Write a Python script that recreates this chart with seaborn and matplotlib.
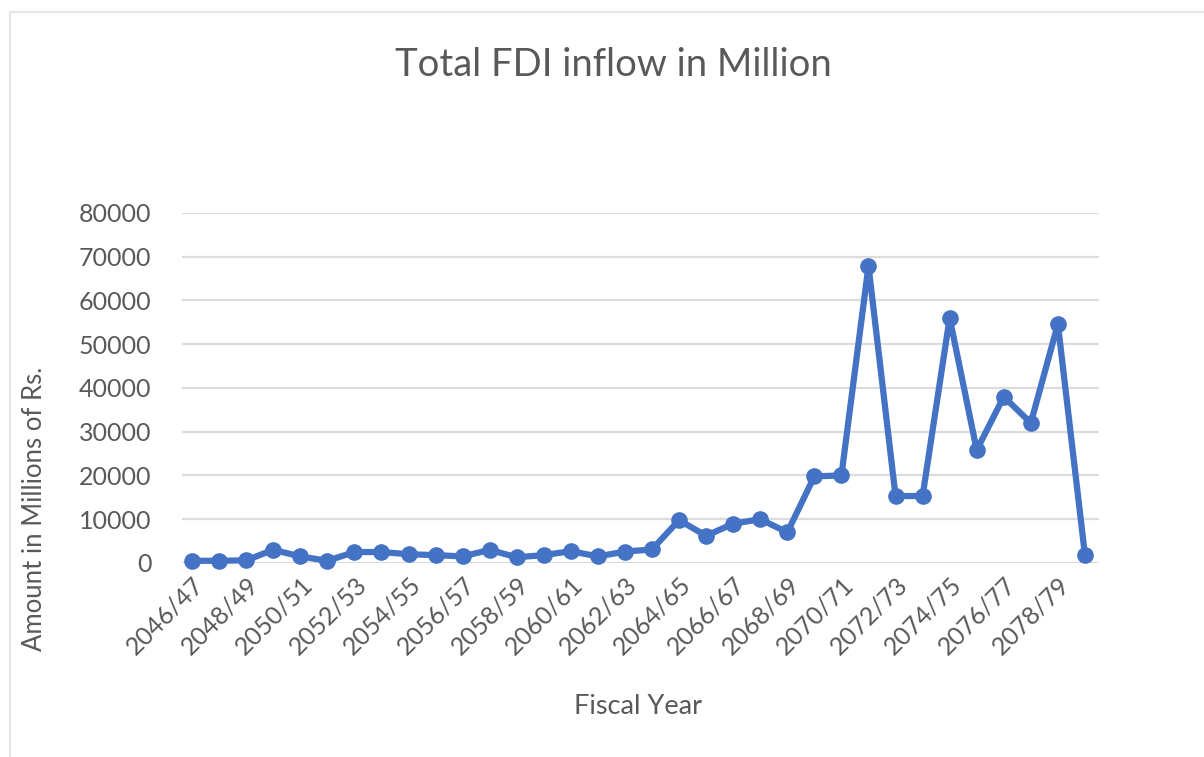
import numpy as np
import pandas as pd
import matplotlib
matplotlib.use("Agg")
import matplotlib.pyplot as plt
import seaborn as sns

# --- data ---
fiscal_years = [f"{y}/{(y + 1) % 100:02d}" for y in range(2046, 2080)]
fdi_inflow = [500, 500, 600, 3000, 1500, 500, 2500, 2500, 2000, 1800,
              1500, 3000, 1300, 1800, 2700, 1500, 2600, 3100, 9800, 6200,
              9000, 10000, 7000, 19800, 20000, 67900, 15300, 15300, 56000, 25800,
              38000, 32000, 54600, 1800]
y_ticks = [0, 10000, 20000, 30000, 40000, 50000, 60000, 70000, 80000]

df = pd.DataFrame({"Fiscal Year": fiscal_years, "FDI": fdi_inflow})
df["pos"] = np.arange(len(df))

sns.set_theme(style="white")
plt.rcParams['font.family'] = ['Lato', 'DejaVu Sans']
text_col = '#595959'

fig = plt.figure(figsize=(12.04, 7.57), dpi=100)
ax = fig.add_axes([0.1512, 0.2563, 0.7616, 0.4624])

sns.lineplot(data=df, x="pos", y="FDI", ax=ax, color='#4472C4', linewidth=4.5,
             marker='o', markersize=12, markeredgewidth=0, clip_on=False, zorder=3)

ax.set_ylim(0, 80000)
ax.set_yticks(y_ticks)
ax.set_yticklabels([str(v) for v in y_ticks])
ax.set_xlim(-0.37, len(df) - 0.48)
ax.set_xticks(df["pos"][::2])
ax.set_xticklabels(df["Fiscal Year"][::2], rotation=45, ha='right', rotation_mode='anchor')

ax.grid(axis='y', color='#dcdcdc', linewidth=1.6)
ax.set_axisbelow(True)
for s in ax.spines.values():
    s.set_visible(False)
ax.tick_params(axis='both', length=0, labelsize=18, labelcolor=text_col)
ax.tick_params(axis='y', pad=22)
ax.tick_params(axis='x', pad=7)

ax.set_xlabel('Fiscal Year', fontsize=19.5, color=text_col)
ax.xaxis.set_label_coords(0.497, -0.375)
ax.set_ylabel('')
fig.text(0.029, 0.328, 'Amount in Millions of Rs.', rotation=90, ha='center', va='center',
         fontsize=18.5, color=text_col)
fig.text(0.5096, 0.914, 'Total FDI inflow in Million', ha='center', va='center',
         fontsize=27.5, color=text_col)

# faint chart-area border
fig.add_artist(plt.Line2D([0.0085, 0.0085], [0, 0.984], color='#e6e6e6', lw=1.5))
fig.add_artist(plt.Line2D([0.0085, 1], [0.984, 0.984], color='#e6e6e6', lw=1.5))

plt.savefig('out.png', dpi=100)
